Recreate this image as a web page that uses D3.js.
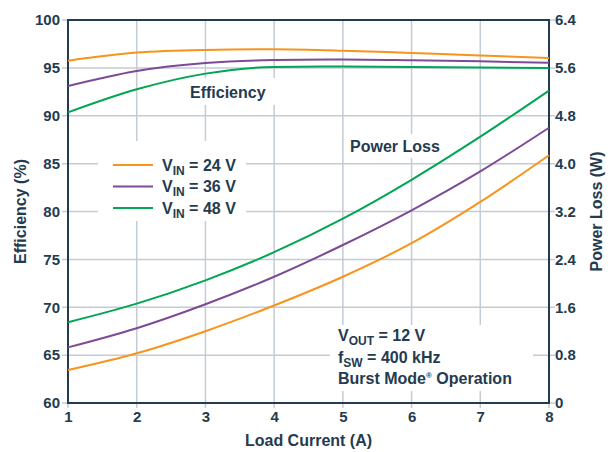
<!DOCTYPE html>
<html lang="en">
<head>
    <meta charset="utf-8">
    <title>Efficiency and Power Loss</title>
    <script src="https://cdn.jsdelivr.net/npm/d3@7"></script>
    <style>
        body { margin: 0; background: #fff; }
        text { font-family: "Liberation Sans", Arial, sans-serif; font-weight: bold; fill: #243b4f; }
    </style>
</head>
<body>
<div id="chart"></div>
<script>
    // Data
    var loadCurrent = [1, 2, 3, 4, 5, 6, 7, 8];
    var vinLabels = ['24', '36', '48'];
    var colors = ['#f7941d', '#7d4a96', '#00a651'];

    var efficiency = [
        [95.75, 96.6, 96.87, 96.94, 96.8, 96.55, 96.3, 96.03],
        [93.1, 94.67, 95.5, 95.82, 95.88, 95.8, 95.68, 95.54],
        [90.35, 92.76, 94.4, 95.1, 95.14, 95.1, 95.05, 94.98]
    ];
    var powerLoss = [
        [0.55, 0.83, 1.2, 1.63, 2.11, 2.67, 3.36, 4.14],
        [0.93, 1.25, 1.65, 2.11, 2.64, 3.22, 3.87, 4.6],
        [1.35, 1.66, 2.05, 2.52, 3.08, 3.73, 4.45, 5.22]
    ];

    var xTicks = [1, 2, 3, 4, 5, 6, 7, 8];
    var effTicks = [60, 65, 70, 75, 80, 85, 90, 95, 100];
    var lossTicks = [0, 0.8, 1.6, 2.4, 3.2, 4.0, 4.8, 5.6, 6.4];

    var width = 612, height = 452;
    var margin = {top: 20, right: 63, bottom: 49, left: 68};
    var gridColor = '#c3cbd3', axisColor = '#243b4f';

    var svg = d3.select('#chart').append('svg')
        .attr('width', width)
        .attr('height', height);

    var x = d3.scaleLinear().domain([1, 8]).range([margin.left, width - margin.right]);
    var yEff = d3.scaleLinear().domain([60, 100]).range([height - margin.bottom, margin.top]);
    var yLoss = d3.scaleLinear().domain([0, 6.4]).range([height - margin.bottom, margin.top]);

    // grid
    svg.append('g').selectAll('line.v')
        .data(xTicks)
        .enter().append('line')
        .attr('x1', function(d) { return x(d); })
        .attr('x2', function(d) { return x(d); })
        .attr('y1', margin.top)
        .attr('y2', height - margin.bottom + 5)
        .attr('stroke', gridColor).attr('stroke-width', 1.5);

    svg.append('g').selectAll('line.h')
        .data(effTicks)
        .enter().append('line')
        .attr('x1', margin.left - 6)
        .attr('x2', width - margin.right + 6)
        .attr('y1', function(d) { return yEff(d); })
        .attr('y2', function(d) { return yEff(d); })
        .attr('stroke', gridColor).attr('stroke-width', 1.5);

    // white label boxes that hide the grid
    function box(x0, y0, w, h) {
        svg.append('rect').attr('x', x0).attr('y', y0).attr('width', w).attr('height', h).attr('fill', '#fff');
    }
    box(98, 141, 148, 80);
    box(184, 78, 92, 27);
    box(344, 134, 104, 24);
    box(330, 325, 203, 66);

    // axes
    var left = svg.append('g').attr('transform', 'translate(' + margin.left + ',0)')
        .call(d3.axisLeft(yEff).tickValues(effTicks).tickSize(0).tickPadding(8));
    var right = svg.append('g').attr('transform', 'translate(' + (width - margin.right) + ',0)')
        .call(d3.axisRight(yLoss).tickValues(lossTicks).tickSize(0).tickPadding(6)
            .tickFormat(function(d) { return d === 0 ? '0' : d3.format('.1f')(d); }));
    var bottom = svg.append('g').attr('transform', 'translate(0,' + (height - margin.bottom) + ')')
        .call(d3.axisBottom(x).tickValues(xTicks).tickSize(0).tickPadding(8).tickFormat(d3.format('d')));

    [left, right, bottom].forEach(function(g) {
        g.select('.domain').remove();
        g.selectAll('text').style('font-size', '15px').attr('fill', axisColor);
    });

    svg.append('rect')
        .attr('x', margin.left).attr('y', margin.top)
        .attr('width', width - margin.left - margin.right)
        .attr('height', height - margin.top - margin.bottom)
        .attr('fill', 'none').attr('stroke', axisColor).attr('stroke-width', 2);

    // curves
    var effLine = d3.line()
        .x(function(d, i) { return x(loadCurrent[i]); })
        .y(function(d) { return yEff(d); })
        .curve(d3.curveMonotoneX);
    var lossLine = d3.line()
        .x(function(d, i) { return x(loadCurrent[i]); })
        .y(function(d) { return yLoss(d); })
        .curve(d3.curveMonotoneX);

    var plot = svg.append('g');
    plot.selectAll('path.eff')
        .data(efficiency)
        .enter().append('path')
        .attr('d', effLine)
        .attr('fill', 'none')
        .attr('stroke', function(d, i) { return colors[i]; })
        .attr('stroke-width', 2);
    plot.selectAll('path.loss')
        .data(powerLoss)
        .enter().append('path')
        .attr('d', lossLine)
        .attr('fill', 'none')
        .attr('stroke', function(d, i) { return colors[i]; })
        .attr('stroke-width', 2);

    // legend
    var legend = svg.append('g').attr('transform', 'translate(113,165)');
    var item = legend.selectAll('g')
        .data(vinLabels)
        .enter().append('g')
        .attr('transform', function(d, i) { return 'translate(0,' + (i * 21.5) + ')'; });
    item.append('line')
        .attr('x1', 0).attr('x2', 40)
        .attr('stroke', function(d, i) { return colors[i]; })
        .attr('stroke-width', 2);
    var lt = item.append('text').attr('x', 49).attr('y', 5.5).style('font-size', '16px');
    lt.append('tspan').text('V');
    lt.append('tspan').attr('dy', 4).style('font-size', '12px').text('IN');
    lt.append('tspan').attr('dy', -4).text(function(d) { return ' = ' + d + ' V'; });

    // labels
    svg.append('text').attr('x', 190).attr('y', 98).style('font-size', '16px').text('Efficiency');
    svg.append('text').attr('x', 350).attr('y', 152).style('font-size', '16px').text('Power Loss');

    var note = svg.append('g').attr('transform', 'translate(338,341)');
    var n1 = note.append('text').style('font-size', '16px');
    n1.append('tspan').text('V');
    n1.append('tspan').attr('dy', 4).style('font-size', '12px').text('OUT');
    n1.append('tspan').attr('dy', -4).text(' = 12 V');
    var n2 = note.append('text').attr('y', 21.5).style('font-size', '16px');
    n2.append('tspan').text('f');
    n2.append('tspan').attr('dy', 4).style('font-size', '12px').text('SW');
    n2.append('tspan').attr('dy', -4).text(' = 400 kHz');
    var n3 = note.append('text').attr('y', 43).style('font-size', '16px');
    n3.append('tspan').text('Burst Mode');
    n3.append('tspan').attr('dy', -6).style('font-size', '8px').text('®');
    n3.append('tspan').attr('dy', 6).text(' Operation');

    // axis titles
    svg.append('text')
        .attr('x', x(4.5)).attr('y', 446)
        .attr('text-anchor', 'middle').style('font-size', '16px')
        .text('Load Current (A)');
    svg.append('text')
        .attr('transform', 'translate(26,' + yEff(80) + ') rotate(-90)')
        .attr('text-anchor', 'middle').style('font-size', '16px')
        .text('Efficiency (%)');
    svg.append('text')
        .attr('transform', 'translate(602,' + yEff(80) + ') rotate(-90)')
        .attr('text-anchor', 'middle').style('font-size', '16px')
        .text('Power Loss (W)');
</script>
</body>
</html>
